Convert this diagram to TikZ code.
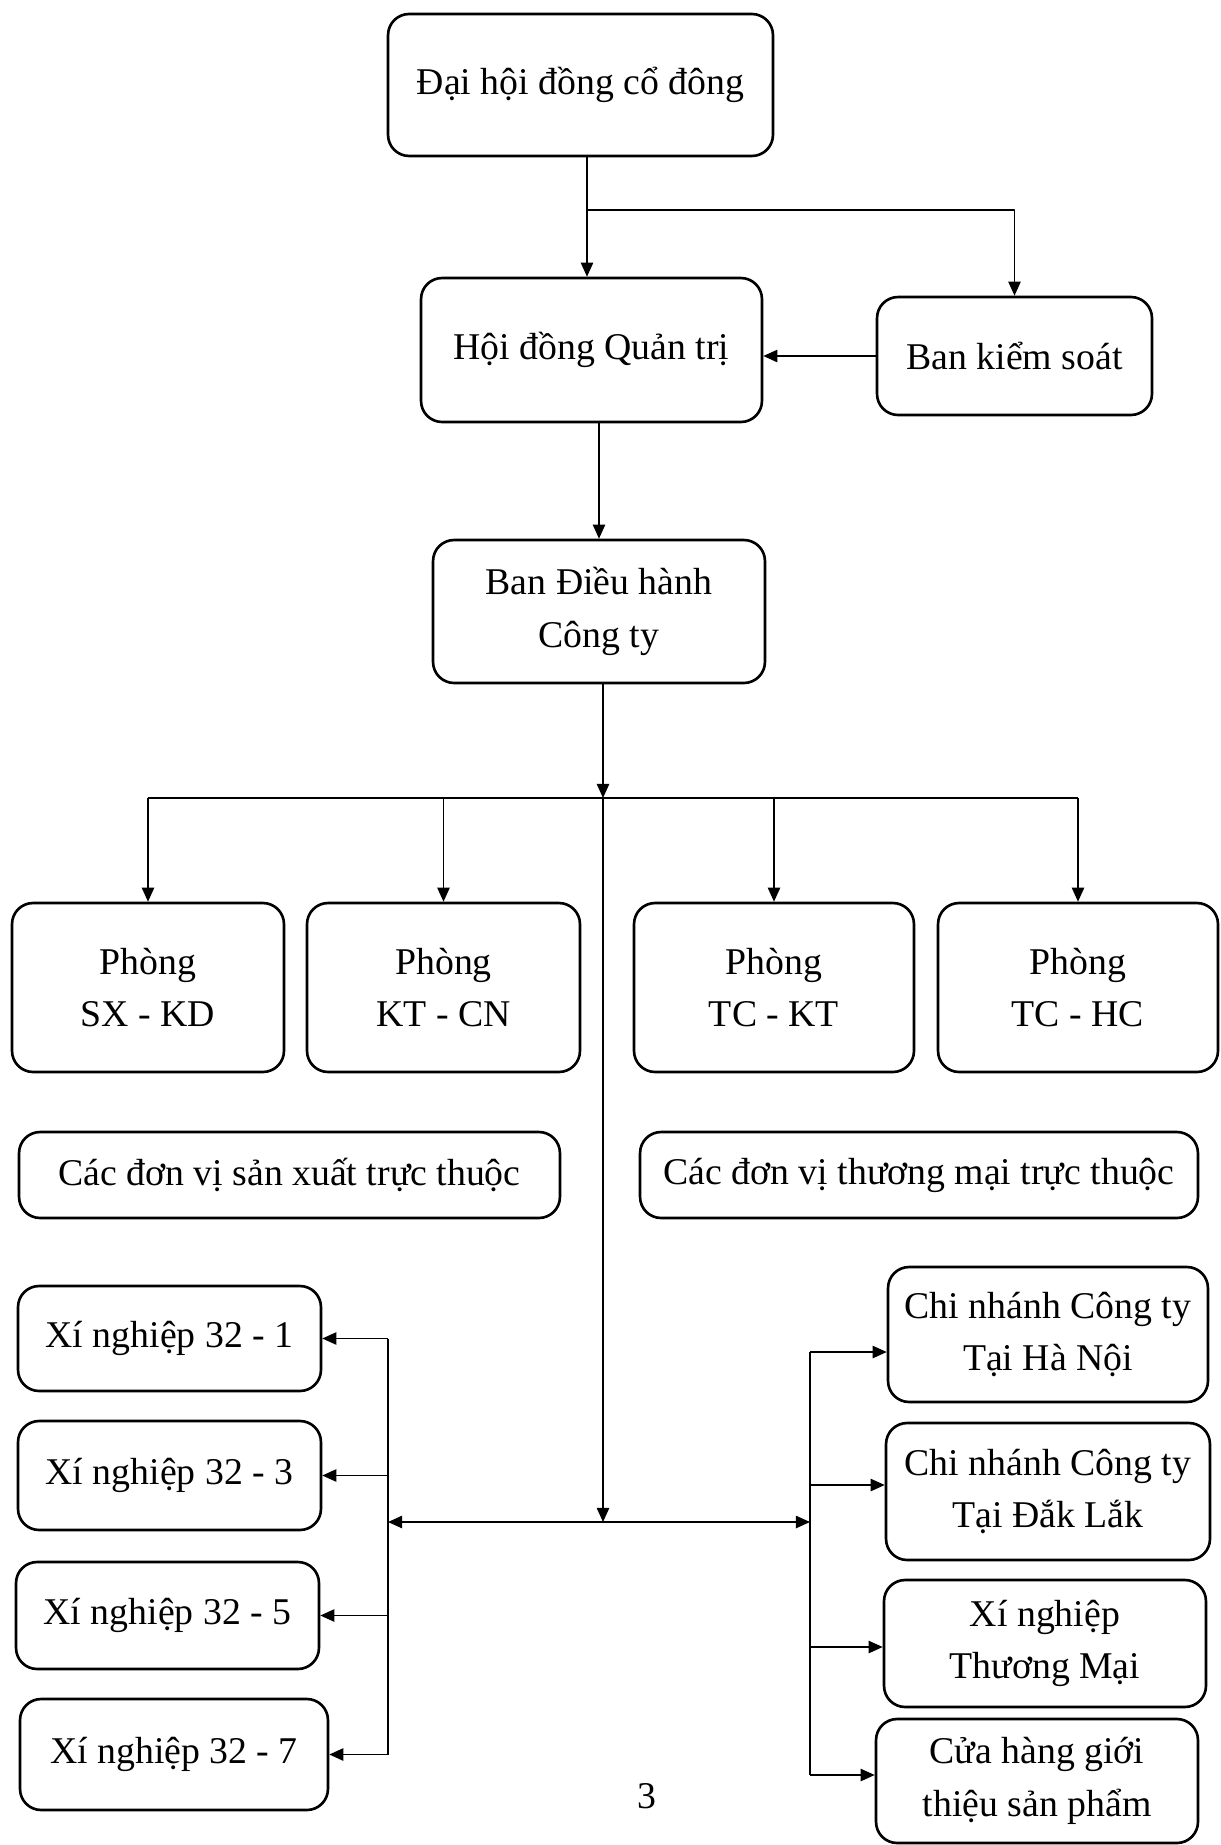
\documentclass[tikz,border=0pt]{standalone}
\usepackage{fontspec}
\setmainfont{Liberation Serif}
\usetikzlibrary{arrows.meta}

\begin{document}
\begin{tikzpicture}[x=0.02cm, y=-0.02cm, line join=round,
    box/.style={draw, line width=1.5pt, rounded corners=12pt, align=center,
        inner sep=0pt, font=\fontsize{21.5}{30}\selectfont},
    link/.style={line width=0.9pt},
    conn/.style={link, -{Triangle[length=8pt, width=7pt]}}]

    \useasboundingbox (0,0) rectangle (1220,1845);

    % Top levels
    \node[box, minimum width=7.7cm, minimum height=2.84cm] (dhdcd) at (580.5,85) {Đại hội đồng cổ đông};
    \node[box, minimum width=6.82cm, minimum height=2.88cm] (hdqt) at (591.5,350) {Hội đồng Quản trị};
    \node[box, minimum width=5.5cm, minimum height=2.36cm] (bks) at (1014.5,356) {Ban kiểm soát};
    \node[box, minimum width=6.64cm, minimum height=2.86cm] (bdh) at (599,611.5) {Ban Điều hành\\Công ty};

    % Departments
    \node[box, minimum width=5.44cm, minimum height=3.38cm] (sxkd) at (148,987.5) {Phòng\\SX - KD};
    \node[box, minimum width=5.46cm, minimum height=3.38cm] (ktcn) at (443.5,987.5) {Phòng\\KT - CN};
    \node[box, minimum width=5.6cm, minimum height=3.38cm] (tckt) at (774,987.5) {Phòng\\TC - KT};
    \node[box, minimum width=5.6cm, minimum height=3.38cm] (tchc) at (1078,987.5) {Phòng\\TC - HC};

    % Group headers
    \node[box, minimum width=10.82cm, minimum height=1.72cm] (sxtt) at (289.5,1175) {Các đơn vị sản xuất trực thuộc};
    \node[box, minimum width=11.16cm, minimum height=1.72cm] (tmtt) at (919,1175) {Các đơn vị thương mại trực thuộc};

    % Production units
    \node[box, minimum width=6.06cm, minimum height=2.1cm] (xn1) at (169.5,1338.5) {Xí nghiệp 32 - 1};
    \node[box, minimum width=6.06cm, minimum height=2.18cm] (xn3) at (169.5,1475.5) {Xí nghiệp 32 - 3};
    \node[box, minimum width=6.06cm, minimum height=2.14cm] (xn5) at (167.5,1615.5) {Xí nghiệp 32 - 5};
    \node[box, minimum width=6.16cm, minimum height=2.22cm] (xn7) at (174,1754.5) {Xí nghiệp 32 - 7};

    % Trade units
    \node[box, minimum width=6.4cm, minimum height=2.7cm] (cnhn) at (1048,1334.5) {Chi nhánh Công ty\\Tại Hà Nội};
    \node[box, minimum width=6.48cm, minimum height=2.74cm] (cndl) at (1048,1491.5) {Chi nhánh Công ty\\Tại Đắk Lắk};
    \node[box, minimum width=6.44cm, minimum height=2.54cm] (xntm) at (1045,1643.5) {Xí nghiệp\\Thương Mại};
    \node[box, minimum width=6.44cm, minimum height=2.48cm] (chgt) at (1037,1781) {Cửa hàng giới\\thiệu sản phẩm};

    \node[font=\fontsize{21.5}{30}\selectfont] (pagenum) at (647,1796) {3};

    % Junctions
    \coordinate (topsplit) at (587,210);
    \coordinate (midbus) at (603,798);
    \coordinate (lowmid) at (603,1522);
    \coordinate (lbus) at (388,1522);
    \coordinate (rbus) at (810,1522);
    \coordinate (rb1) at (810,1352);
    \coordinate (rb2) at (810,1485);
    \coordinate (rb3) at (810,1647);
    \coordinate (rb4) at (810,1775);

    % 1. Upper chain
    \draw[conn] (dhdcd.south -| topsplit) -- (hdqt.north -| topsplit);
    \draw[conn] (topsplit) -| (bks.north);
    \draw[conn] (bks.west) -- (bks.west -| hdqt.east);
    \draw[conn] (hdqt.south -| bdh.north) -- (bdh.north);

    % 2. Departments bus
    \draw[conn] (bdh.south -| midbus) -- (midbus);
    \draw[link] (sxkd.north |- midbus) -- (tchc.north |- midbus);
    \foreach \d in {sxkd,ktcn,tckt,tchc}
        \draw[conn] (\d.north |- midbus) -- (\d.north);

    % 3. Lower split
    \draw[conn] (midbus) -- (lowmid);
    \draw[link, {Triangle[length=8pt, width=7pt]}-{Triangle[length=8pt, width=7pt]}] (lbus) -- (rbus);

    % 4. Production side
    \draw[link] (xn1.east -| lbus) -- (xn7.east -| lbus);
    \foreach \u in {xn1,xn3,xn5,xn7}
        \draw[conn] (\u.east -| lbus) -- (\u.east);

    % 5. Trade side
    \draw[link] (rb1) -- (rb4);
    \draw[conn] (rb1) -- (rb1 -| cnhn.west);
    \draw[conn] (rb2) -- (rb2 -| cndl.west);
    \draw[conn] (rb3) -- (rb3 -| xntm.west);
    \draw[conn] (rb4) -- (rb4 -| chgt.west);

\end{tikzpicture}
\end{document}
